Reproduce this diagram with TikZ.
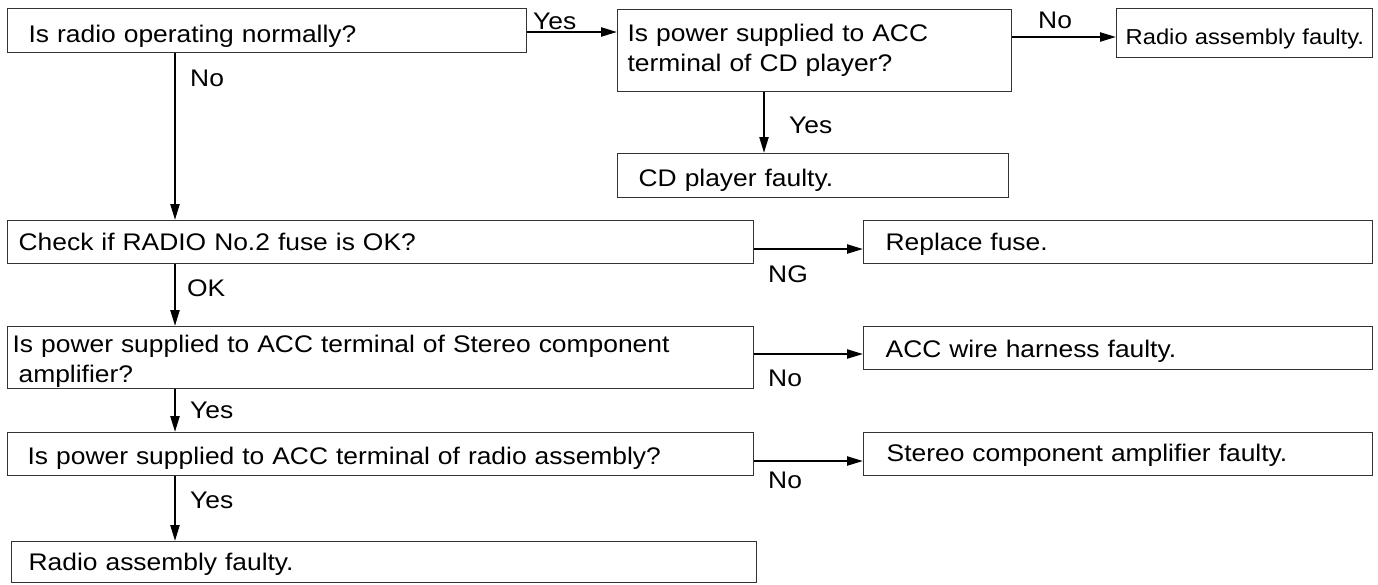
\documentclass[tikz,border=0pt]{standalone}
\usepackage{fontspec}
\setmainfont{Liberation Sans}[FakeStretch=1.1]
\usetikzlibrary{arrows.meta}
\newcommand\mainsz{\fontsize{24}{30}\selectfont}
\newcommand\smallsz{\fontsize{21.6}{26}\selectfont}
\begin{document}
\begin{tikzpicture}[x=1pt,y=-1pt,
  box/.style={draw=black!80, line width=1.3pt, rectangle, anchor=north west,
    align=left, inner ysep=0pt, font=\mainsz, text=black},
  one/.style={text depth=0pt, text height=#1},
  arr/.style={line width=2.2pt, -{Triangle[length=16pt,width=9pt]}},
  lab/.style={anchor=west, inner sep=0pt, font=\mainsz}]
\useasboundingbox (0,0) rectangle (1378,584);
% boxes
\node[box, one=24pt, inner xsep=21pt, text width=477pt, minimum height=44pt] (A) at (7,8) {Is radio operating normally?};
\node[box, inner xsep=10pt, text width=374pt, minimum height=82pt] (B) at (617,9) {Is power supplied to ACC\\terminal of CD player?};
\node[box, one=23.4pt, inner xsep=3pt, text width=250pt, minimum height=49pt, font=\smallsz] (R1) at (1116,8) {\hspace*{6pt}Radio assembly faulty.};
\node[box, one=21.2pt, inner xsep=21pt, text width=349pt, minimum height=44pt] (CD) at (617,153) {CD player faulty.};
\node[box, one=17pt, inner xsep=11pt, text width=724pt, minimum height=43pt] (C) at (7,220) {Check if RADIO No.2 fuse is OK?};
\node[box, one=17pt, inner xsep=22pt, text width=465pt, minimum height=43pt] (RF) at (863,220) {Replace fuse.};
\node[box, inner xsep=5pt, text width=736pt, minimum height=62pt] (S) at (7,326) {\rule{0pt}{24pt}Is power supplied to ACC terminal of Stereo component\\\hspace*{6pt}amplifier?};
\node[box, one=19pt, inner xsep=22pt, text width=465pt, minimum height=43pt] (ACC) at (863,326) {ACC wire harness faulty.};
\node[box, one=20.2pt, inner xsep=20pt, text width=706pt, minimum height=43pt] (P) at (7,432) {Is power supplied to ACC terminal of radio assembly?};
\node[box, one=15pt, inner xsep=23pt, text width=463pt, minimum height=43pt] (SA) at (863,432) {Stereo component amplifier faulty.};
\node[box, one=17.6pt, inner xsep=17pt, text width=711pt, minimum height=41pt] (F) at (11,541) {Radio assembly faulty.};
% helper coordinates
\coordinate (xl) at (175,0);
\coordinate (xb) at (764,0);
\coordinate (yab) at (0,32);
\coordinate (ybr) at (0,37);
\coordinate (ycr) at (0,249);
\coordinate (ysa) at (0,354);
\coordinate (yps) at (0,461);
% connectors
\draw[arr] (A.east |- yab) -- (B.west |- yab);
\draw[arr] (B.east |- ybr) -- (R1.west |- ybr);
\draw[arr] (B.south -| xb) -- (CD.north -| xb);
\draw[arr] (A.south -| xl) -- (C.north -| xl);
\draw[arr] (C.east |- ycr) -- (RF.west |- ycr);
\draw[arr] (C.south -| xl) -- (S.north -| xl);
\draw[arr] (S.east |- ysa) -- (ACC.west |- ysa);
\draw[arr] (S.south -| xl) -- (P.north -| xl);
\draw[arr] (P.east |- yps) -- (SA.west |- yps);
\draw[arr] (P.south -| xl) -- (F.north -| xl);
% labels
\node[lab, anchor=base west] (l1) at (533,29) {Yes};
\node[lab] (l2) at (190,78) {No};
\node[lab] (l3) at (1038,20) {No};
\node[lab] (l4) at (789,125) {Yes};
\node[lab] (l5) at (187,288) {OK};
\node[lab] (l6) at (768,274) {NG};
\node[lab] (l7) at (768,378) {No};
\node[lab] (l8) at (190,410) {Yes};
\node[lab] (l9) at (768,480) {No};
\node[lab] (l10) at (190,500) {Yes};
\end{tikzpicture}
\end{document}
